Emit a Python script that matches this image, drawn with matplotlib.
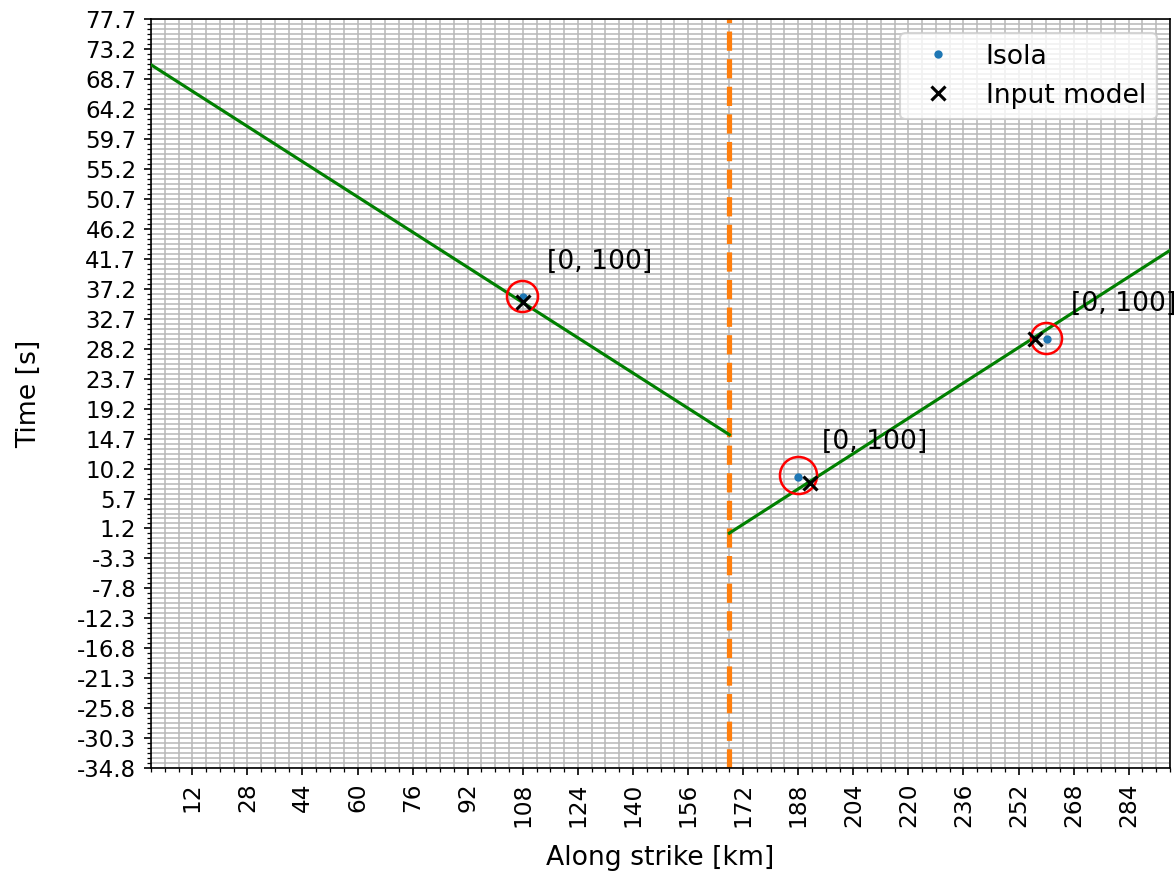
import numpy as np
import matplotlib
matplotlib.use("Agg")
import matplotlib.pyplot as plt
from matplotlib.ticker import FixedLocator, MultipleLocator

# ---- data ----
left_x = [0, 168]
left_t = [70.9, 15.3]
right_x = [168, 296]
right_t = [0.5, 43.0]
split_x = 168

isola_x = [108.2, 188.0, 260.3]
isola_t = [36.0, 8.9, 29.7]
model_x = [108.1, 191.5, 256.9]
model_t = [35.3, 8.0, 29.7]
circle_x = [107.9, 187.8, 260.1]
circle_t = [36.2, 9.2, 29.9]
circle_size = [14.9, 17.8, 14.9]
labels = ["[0, 100]", "[0, 100]", "[0, 100]"]

xticks = list(range(12, 285, 16))
yticks = [round(-34.8 + 4.5 * k, 1) for k in range(26)]
ytick_labels = ["%.1f" % v for v in yticks]

fig = plt.figure(figsize=(7.84, 874 / 150), dpi=150)
ax = fig.add_axes([151 / 1176, 1 - 768 / 874, (1170 - 151) / 1176, (768 - 19.5) / 874])

ax.plot(left_x, left_t, color="green", lw=1.5, zorder=3)
ax.plot(right_x, right_t, color="green", lw=1.5, zorder=3)
ax.axvline(split_x, color="#ff7f0e", ls="--", lw=2.5, zorder=2)

ax.plot(isola_x, isola_t, ".", color="#1f77b4", ms=6, label="Isola", zorder=4, linestyle="none")
ax.plot(model_x, model_t, "x", color="black", ms=7, mew=1.5, label="Input model", zorder=5, linestyle="none")
for cx, ct, s in zip(circle_x, circle_t, circle_size):
    ax.plot(cx, ct, "o", mfc="none", mec="red", ms=s, mew=1.2, zorder=4)
for px, pt, lab in zip(isola_x, isola_t, labels):
    ax.annotate(lab, (px, pt), xytext=(11.5, 16.8), textcoords="offset points",
                fontsize=12.8, va="center", ha="left", zorder=6)

ax.set_xlim(0, 296)
ax.set_ylim(-34.8, 77.7)
ax.xaxis.set_major_locator(FixedLocator(xticks))
ax.xaxis.set_minor_locator(MultipleLocator(4))
ax.set_xticklabels([str(v) for v in xticks], rotation=90, fontsize=11.2)
ax.yaxis.set_major_locator(FixedLocator(yticks))
ax.yaxis.set_minor_locator(FixedLocator(np.arange(-34.8, 77.71, 0.75)))
ax.set_yticklabels(ytick_labels, fontsize=11)
ax.tick_params(which="both", direction="out")
ax.grid(True, which="both", color="#b8b8b8", lw=0.75)
ax.set_axisbelow(True)

ax.set_xlabel("Along strike [km]", fontsize=12.8, labelpad=8.5)
ax.set_ylabel("Time [s]", fontsize=12.8, labelpad=17)
ax.legend(loc="upper right", fontsize=12.8)

fig.savefig("out.png", dpi=150)
